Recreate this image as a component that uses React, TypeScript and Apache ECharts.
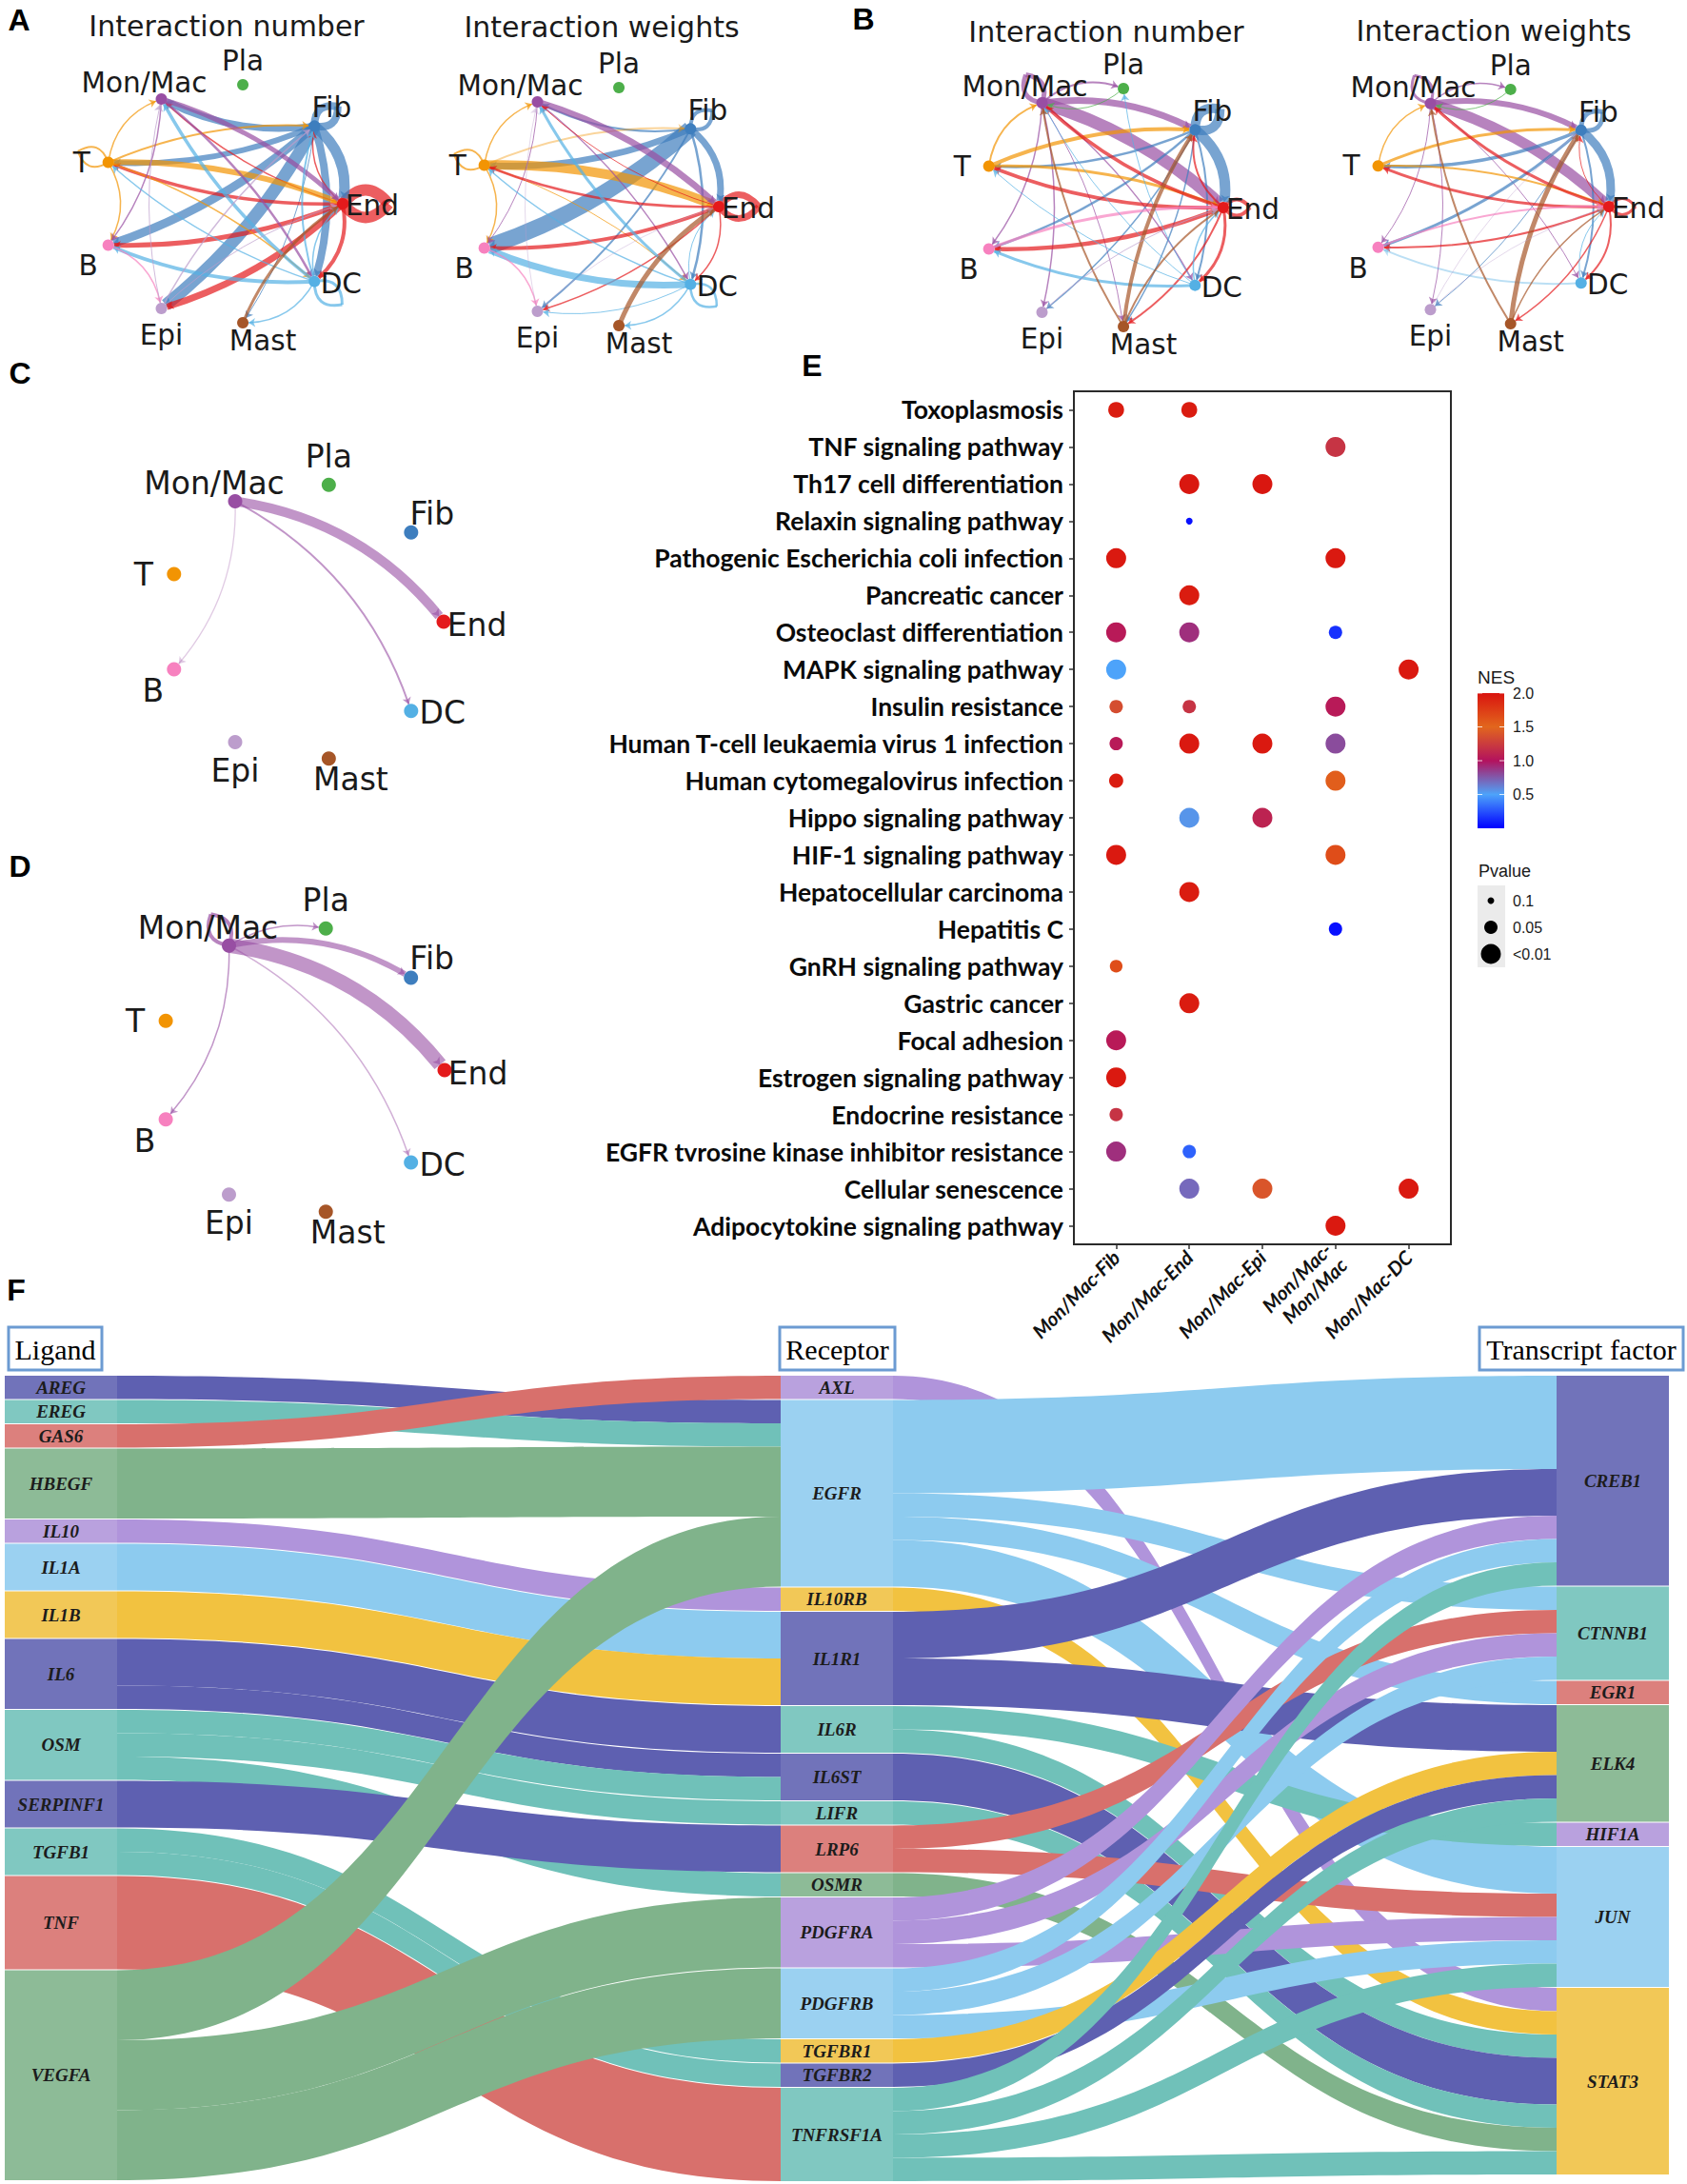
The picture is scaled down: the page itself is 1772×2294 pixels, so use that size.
import React, { useEffect, useRef } from "react";
import * as echarts from "echarts";

const CANVAS_W = 1772;
const CANVAS_H = 2294;

/* ---------------- Panels A–D : cell–cell communication networks ---------------- */
// clockwise from 3 o'clock
const cellTypes = ["End", "DC", "Mast", "Epi", "B", "T", "Mon/Mac", "Pla", "Fib"];
const cellColors = ["#E41A1C", "#54B0E4", "#A65628", "#BC9DCC", "#F781BF", "#F29403", "#984EA3", "#4DAF4A", "#3E7EBE"];

// [source, target, edge width, (optional) opacity]
const edgesANumber = [
  ["Fib", "Epi", 13], ["Fib", "End", 11], ["Fib", "B", 9], ["Fib", "DC", 8], ["Fib", "Mon/Mac", 7], ["Fib", "T", 6], ["Fib", "Mast", 1],
  ["End", "Epi", 7], ["End", "B", 5], ["End", "T", 3.5], ["End", "DC", 4], ["End", "Mon/Mac", 1.5], ["End", "Fib", 1.5],
  ["T", "End", 6], ["T", "Fib", 2], ["T", "Mon/Mac", 1.5], ["T", "B", 1.5], ["T", "DC", 1.5],
  ["Mon/Mac", "End", 5], ["Mon/Mac", "DC", 2.5], ["Mon/Mac", "B", 1.5],
  ["DC", "B", 4], ["DC", "Mon/Mac", 3.5], ["DC", "T", 1.5], ["DC", "Mast", 1.5], ["DC", "Fib", 2], ["DC", "End", 1.5],
  ["B", "Epi", 1.5], ["Epi", "Fib", 1.5], ["Epi", "End", 1], ["Epi", "Mon/Mac", 1],
  ["Mast", "End", 3],
];
// [cell, width, loop length]
const loopsANumber = [["End", 12, 48], ["Fib", 8, 32], ["T", 2, 34], ["DC", 3, 38]];

const edgesAWeight = [
  ["Fib", "B", 17], ["Fib", "T", 7], ["Fib", "End", 7], ["Fib", "Epi", 2], ["Fib", "DC", 2.5], ["Fib", "Mon/Mac", 2],
  ["T", "End", 10], ["T", "Fib", 2, 0.4], ["T", "Mon/Mac", 1.5], ["T", "B", 1.5], ["T", "DC", 1],
  ["Mon/Mac", "End", 7], ["Mon/Mac", "DC", 1.5], ["Mon/Mac", "B", 1],
  ["End", "B", 4], ["End", "T", 2.5], ["End", "Epi", 1.5], ["End", "DC", 1.5], ["End", "Mon/Mac", 1],
  ["DC", "B", 7], ["DC", "Mon/Mac", 3], ["DC", "T", 1.5], ["DC", "Mast", 1.5], ["DC", "Epi", 1], ["DC", "End", 1],
  ["Mast", "End", 5],
  ["B", "Epi", 1.5], ["Epi", "Mon/Mac", 1, 0.4], ["Epi", "End", 1, 0.4],
];
const loopsAWeight = [["End", 7, 42], ["Fib", 4, 30], ["T", 2, 34], ["DC", 2.5, 36]];

const edgesBNumber = [
  ["Mon/Mac", "End", 13], ["Mon/Mac", "Fib", 7], ["Mon/Mac", "Pla", 2], ["Mon/Mac", "B", 1.5], ["Mon/Mac", "Epi", 1.5], ["Mon/Mac", "DC", 1.5], ["Mon/Mac", "Mast", 1],
  ["Pla", "Mon/Mac", 1],
  ["Fib", "End", 11], ["Fib", "T", 2.5], ["Fib", "B", 2.5], ["Fib", "Epi", 1.5], ["Fib", "DC", 2], ["Fib", "Mast", 1.5],
  ["T", "Fib", 4], ["T", "End", 3], ["T", "Mon/Mac", 2],
  ["End", "T", 4], ["End", "Mon/Mac", 3.5], ["End", "B", 4.5], ["End", "DC", 3], ["End", "Mast", 2], ["End", "Fib", 2],
  ["B", "End", 3],
  ["DC", "B", 3], ["DC", "Mon/Mac", 1], ["DC", "Pla", 1], ["DC", "End", 1.5], ["DC", "T", 1],
  ["Mast", "Fib", 4], ["Mast", "Mon/Mac", 2], ["Mast", "End", 2],
  ["Epi", "End", 1],
];
const loopsBNumber = [["Mon/Mac", 5, 34], ["Fib", 10, 34], ["End", 4, 28]];

const edgesBWeight = [
  ["Mon/Mac", "End", 11], ["Mon/Mac", "Fib", 6], ["Mon/Mac", "Pla", 1.5], ["Mon/Mac", "B", 1], ["Mon/Mac", "Epi", 1], ["Mon/Mac", "DC", 1],
  ["Pla", "Mon/Mac", 1],
  ["Fib", "End", 9], ["Fib", "T", 3.5], ["Fib", "B", 3], ["Fib", "Epi", 1], ["Fib", "DC", 2],
  ["T", "Fib", 3], ["T", "End", 2], ["T", "Mon/Mac", 1.5],
  ["End", "T", 3], ["End", "Mon/Mac", 3], ["End", "B", 2], ["End", "DC", 2], ["End", "Mast", 1.5], ["End", "Fib", 1],
  ["B", "End", 2],
  ["DC", "B", 2, 0.4], ["DC", "End", 1],
  ["Mast", "Fib", 5], ["Mast", "Mon/Mac", 2], ["Mast", "End", 1.5],
  ["Epi", "End", 1, 0.4], ["Epi", "Fib", 1, 0.4],
];
const loopsBWeight = [["Mon/Mac", 3, 34], ["Fib", 5, 30], ["End", 3, 28]];

const edgesC = [["Mon/Mac", "End", 10], ["Mon/Mac", "DC", 2], ["Mon/Mac", "B", 1.3, 0.3]];
const loopsC = [];
const edgesD = [["Mon/Mac", "End", 15], ["Mon/Mac", "Fib", 6], ["Mon/Mac", "Pla", 1.5], ["Mon/Mac", "DC", 1.5, 0.45], ["Mon/Mac", "B", 1.5]];
const loopsD = [["Mon/Mac", 4, 38]];

const networkTitles = ["Interaction number", "Interaction weights", "Interaction number", "Interaction weights"];

/* ---------------- Panel E : enrichment dot plot ---------------- */
const pathways = [
  "Toxoplasmosis", "TNF signaling pathway", "Th17 cell differentiation", "Relaxin signaling pathway",
  "Pathogenic Escherichia coli infection", "Pancreatic cancer", "Osteoclast differentiation", "MAPK signaling pathway",
  "Insulin resistance", "Human T-cell leukaemia virus 1 infection", "Human cytomegalovirus infection",
  "Hippo signaling pathway", "HIF-1 signaling pathway", "Hepatocellular carcinoma", "Hepatitis C",
  "GnRH signaling pathway", "Gastric cancer", "Focal adhesion", "Estrogen signaling pathway", "Endocrine resistance",
  "EGFR tvrosine kinase inhibitor resistance", "Cellular senescence", "Adipocytokine signaling pathway",
];
const cellPairs = ["Mon/Mac-Fib", "Mon/Mac-End", "Mon/Mac-Epi", "Mon/Mac-Mon/Mac", "Mon/Mac-DC"];
// [pathway, pair, NES, Pvalue]
const enrichment = [
  ["Toxoplasmosis", "Mon/Mac-Fib", 1.95, 0.035], ["Toxoplasmosis", "Mon/Mac-End", 1.95, 0.035],
  ["TNF signaling pathway", "Mon/Mac-Mon/Mac", 1.2, 0.005],
  ["Th17 cell differentiation", "Mon/Mac-End", 1.98, 0.005], ["Th17 cell differentiation", "Mon/Mac-Epi", 1.98, 0.005],
  ["Relaxin signaling pathway", "Mon/Mac-End", 0.05, 0.1],
  ["Pathogenic Escherichia coli infection", "Mon/Mac-Fib", 1.97, 0.005], ["Pathogenic Escherichia coli infection", "Mon/Mac-Mon/Mac", 1.97, 0.005],
  ["Pancreatic cancer", "Mon/Mac-End", 1.95, 0.005],
  ["Osteoclast differentiation", "Mon/Mac-Fib", 1.05, 0.005], ["Osteoclast differentiation", "Mon/Mac-End", 0.9, 0.005], ["Osteoclast differentiation", "Mon/Mac-Mon/Mac", 0.15, 0.05],
  ["MAPK signaling pathway", "Mon/Mac-Fib", 0.5, 0.005], ["MAPK signaling pathway", "Mon/Mac-DC", 1.97, 0.005],
  ["Insulin resistance", "Mon/Mac-Fib", 1.35, 0.05], ["Insulin resistance", "Mon/Mac-End", 1.2, 0.05], ["Insulin resistance", "Mon/Mac-Mon/Mac", 1.05, 0.007],
  ["Human T-cell leukaemia virus 1 infection", "Mon/Mac-Fib", 1.05, 0.05], ["Human T-cell leukaemia virus 1 infection", "Mon/Mac-End", 1.97, 0.005],
  ["Human T-cell leukaemia virus 1 infection", "Mon/Mac-Epi", 1.97, 0.005], ["Human T-cell leukaemia virus 1 infection", "Mon/Mac-Mon/Mac", 0.8, 0.005],
  ["Human cytomegalovirus infection", "Mon/Mac-Fib", 1.95, 0.045], ["Human cytomegalovirus infection", "Mon/Mac-Mon/Mac", 1.55, 0.005],
  ["Hippo signaling pathway", "Mon/Mac-End", 0.55, 0.005], ["Hippo signaling pathway", "Mon/Mac-Epi", 1.1, 0.005],
  ["HIF-1 signaling pathway", "Mon/Mac-Fib", 1.97, 0.005], ["HIF-1 signaling pathway", "Mon/Mac-Mon/Mac", 1.65, 0.005],
  ["Hepatocellular carcinoma", "Mon/Mac-End", 1.95, 0.005],
  ["Hepatitis C", "Mon/Mac-Mon/Mac", 0.05, 0.05],
  ["GnRH signaling pathway", "Mon/Mac-Fib", 1.65, 0.055],
  ["Gastric cancer", "Mon/Mac-End", 1.95, 0.005],
  ["Focal adhesion", "Mon/Mac-Fib", 1.05, 0.005],
  ["Estrogen signaling pathway", "Mon/Mac-Fib", 1.97, 0.005],
  ["Endocrine resistance", "Mon/Mac-Fib", 1.2, 0.05],
  ["EGFR tvrosine kinase inhibitor resistance", "Mon/Mac-Fib", 0.9, 0.005], ["EGFR tvrosine kinase inhibitor resistance", "Mon/Mac-End", 0.3, 0.05],
  ["Cellular senescence", "Mon/Mac-End", 0.7, 0.005], ["Cellular senescence", "Mon/Mac-Epi", 1.4, 0.005], ["Cellular senescence", "Mon/Mac-DC", 1.97, 0.005],
  ["Adipocytokine signaling pathway", "Mon/Mac-Mon/Mac", 1.97, 0.005],
];
const nesTicks = [2.0, 1.5, 1.0, 0.5];
const nesMin = 0;
const nesMax = 2;
const nesColors = ["#0000FF", "#4DA3FA", "#B3125E", "#E2661D", "#D9140F"];
const pvalueBreaks = [0.1, 0.05, 0.01];
const pvalueLabels = ["0.1", "0.05", "<0.01"];

/* ---------------- Panel F : ligand – receptor – transcription factor sankey ---------------- */
const ligands = ["AREG", "EREG", "GAS6", "HBEGF", "IL10", "IL1A", "IL1B", "IL6", "OSM", "SERPINF1", "TGFB1", "TNF", "VEGFA"];
const ligandHues = ["navy", "teal", "red", "green", "lavender", "sky", "yellow", "navy", "teal", "navy", "teal", "red", "green"];
const receptors = ["AXL", "EGFR", "IL10RB", "IL1R1", "IL6R", "IL6ST", "LIFR", "LRP6", "OSMR", "PDGFRA", "PDGFRB", "TGFBR1", "TGFBR2", "TNFRSF1A"];
const receptorHues = ["lavender", "sky", "yellow", "navy", "teal", "navy", "teal", "red", "green", "lavender", "sky", "yellow", "navy", "teal"];
const factors = ["CREB1", "CTNNB1", "EGR1", "ELK4", "HIF1A", "JUN", "STAT3"];
const factorHues = ["navy", "teal", "red", "green", "lavender", "sky", "yellow"];
const ligandReceptorLinks = [
  ["AREG", "EGFR", 1], ["EREG", "EGFR", 1], ["GAS6", "AXL", 1], ["HBEGF", "EGFR", 3], ["IL10", "IL10RB", 1],
  ["IL1A", "IL1R1", 2], ["IL1B", "IL1R1", 2], ["IL6", "IL6R", 2], ["IL6", "IL6ST", 1], ["OSM", "IL6ST", 1],
  ["OSM", "LIFR", 1], ["OSM", "OSMR", 1], ["SERPINF1", "LRP6", 2], ["TGFB1", "TGFBR1", 1], ["TGFB1", "TGFBR2", 1],
  ["TNF", "TNFRSF1A", 4], ["VEGFA", "EGFR", 3], ["VEGFA", "PDGFRA", 3], ["VEGFA", "PDGFRB", 3],
];
const receptorFactorLinks = [
  ["AXL", "STAT3", 1], ["EGFR", "CREB1", 4], ["EGFR", "CTNNB1", 1], ["EGFR", "EGR1", 1], ["EGFR", "JUN", 2],
  ["IL10RB", "STAT3", 1], ["IL1R1", "CREB1", 2], ["IL1R1", "ELK4", 2], ["IL6R", "HIF1A", 1], ["IL6R", "STAT3", 1],
  ["IL6ST", "STAT3", 2], ["LIFR", "STAT3", 1], ["LRP6", "CTNNB1", 1], ["LRP6", "JUN", 1], ["OSMR", "STAT3", 1],
  ["PDGFRA", "CREB1", 1], ["PDGFRA", "CTNNB1", 1], ["PDGFRA", "JUN", 1], ["PDGFRB", "CREB1", 1], ["PDGFRB", "CTNNB1", 1],
  ["PDGFRB", "JUN", 1], ["TGFBR1", "ELK4", 1], ["TGFBR2", "ELK4", 1], ["TNFRSF1A", "CREB1", 1], ["TNFRSF1A", "ELK4", 1],
  ["TNFRSF1A", "JUN", 1], ["TNFRSF1A", "STAT3", 1],
];
const columnTitles = ["Ligand", "Receptor", "Transcript factor"];

/* ---------------- styles ---------------- */
const hueColors = {
  navy: { link: "#5E60B1", node: "#7173BA" },
  teal: { link: "#70C1B9", node: "#80C8C1" },
  red: { link: "#D8706C", node: "#DC807D" },
  green: { link: "#80B38B", node: "#8DBB97" },
  lavender: { link: "#B094DB", node: "#B9A1DE" },
  sky: { link: "#8DCBEF", node: "#9BD1F1" },
  yellow: { link: "#F2C240", node: "#F2C857" },
};
const labelOffsetsSmall = { "Mon/Mac": [-18, -17], Pla: [0, -25], Fib: [18, -19], T: [-28, 0], End: [31, 2], B: [-21, 22], DC: [28, 2], Epi: [0, 28], Mast: [21, 19] };
const labelOffsetsLarge = { "Mon/Mac": [-22, -19], Pla: [0, -30], Fib: [22, -20], T: [-32, 0], End: [35, 3], B: [-22, 23], DC: [33, 2], Epi: [0, 30], Mast: [23, 22] };

const networkPanels = [
  { cx: 233, cy: 214, r: 127, edges: edgesANumber, loops: loopsANumber, large: false, title: [238, 27] },
  { cx: 628, cy: 217, r: 127, edges: edgesAWeight, loops: loopsAWeight, large: false, title: [632, 28] },
  { cx: 1158, cy: 218, r: 127, edges: edgesBNumber, loops: loopsBNumber, large: false, title: [1162, 33] },
  { cx: 1565, cy: 217, r: 125, edges: edgesBWeight, loops: loopsBWeight, large: false, title: [1569, 32] },
  { cx: 320, cy: 653, r: 146, edges: edgesC, loops: loopsC, large: true, title: null },
  { cx: 316, cy: 1124, r: 151, edges: edgesD, loops: loopsD, large: true, title: null },
];

function cellColor(name) {
  return cellColors[cellTypes.indexOf(name)];
}

function buildNetwork(p) {
  const pos = {};
  cellTypes.forEach((n, i) => {
    const a = (i * 2 * Math.PI) / cellTypes.length;
    pos[n] = [p.cx + p.r * Math.cos(a), p.cy + p.r * Math.sin(a)];
  });
  const offs = p.large ? labelOffsetsLarge : labelOffsetsSmall;
  const nodes = cellTypes.map((n) => ({
    name: n,
    value: pos[n],
    symbolSize: p.large ? 15 : 12,
    itemStyle: { color: cellColor(n) },
    label: {
      show: true,
      position: "inside",
      offset: offs[n],
      fontSize: p.large ? 33 : 29.5,
      fontFamily: "DejaVu Sans",
      color: "#1a1a1a",
    },
  }));
  const links = [];
  p.loops.forEach(([n, w, len]) => {
    const [x, y] = pos[n];
    const dx = x - p.cx;
    const dy = y - p.cy;
    const d = Math.hypot(dx, dy);
    const helper = n + "__loop";
    nodes.push({
      name: helper,
      value: [x + (dx / d) * len, y + (dy / d) * len],
      symbolSize: 0,
      itemStyle: { opacity: 0 },
      label: { show: false },
    });
    const ls = { color: cellColor(n), width: w, opacity: 0.7, curveness: 0.6 };
    links.push({ source: n, target: helper, lineStyle: ls, symbol: ["none", "none"] });
    links.push({ source: helper, target: n, lineStyle: ls, symbol: ["none", "none"] });
  });
  p.edges.forEach(([s, t, w, op]) => {
    const L = Math.hypot(pos[s][0] - pos[t][0], pos[s][1] - pos[t][1]);
    const c = p.large ? 0.2 : Math.min(0.4, Math.max(0.08, 26 / L));
    links.push({
      source: s,
      target: t,
      lineStyle: { color: cellColor(s), width: w, opacity: op !== undefined ? op : p.large ? 0.6 : 0.7, curveness: c },
    });
  });
  return {
    type: "graph",
    coordinateSystem: "cartesian2d",
    xAxisIndex: 0,
    yAxisIndex: 0,
    layout: "none",
    silent: true,
    emphasis: { disabled: true },
    edgeSymbol: ["none", "arrow"],
    edgeSymbolSize: [0, 7],
    data: nodes,
    links,
  };
}

function sizeFromP(p) {
  const q = Math.min(0.1, Math.max(0.001, p));
  if (q >= 0.05) return 14 - ((q - 0.05) / 0.05) * 7;
  if (q >= 0.01) return 21 - ((q - 0.01) / 0.04) * 7;
  return 21;
}

function buildOption() {
  const series = [];
  networkPanels.forEach((p) => series.push(buildNetwork(p)));

  // E: dot plot
  const dotData = enrichment.map(([pw, pair, nes, pv]) => [cellPairs.indexOf(pair), pathways.indexOf(pw), nes, pv]);
  const scatterIndex = series.length;
  series.push({
    type: "scatter",
    xAxisIndex: 1,
    yAxisIndex: 1,
    data: dotData,
    encode: { x: 0, y: 1 },
    symbolSize: (v) => sizeFromP(v[3]),
    itemStyle: { opacity: 1 },
    silent: true,
    z: 5,
  });

  // F: sankey
  const hueOf = {};
  ligands.forEach((n, i) => (hueOf[n] = ligandHues[i]));
  receptors.forEach((n, i) => (hueOf[n] = receptorHues[i]));
  factors.forEach((n, i) => (hueOf[n] = factorHues[i]));
  const sankeyNodes = [
    ...ligands.map((n) => ({ name: n, depth: 0 })),
    ...receptors.map((n) => ({ name: n, depth: 1 })),
    ...factors.map((n) => ({ name: n, depth: 2 })),
  ].map((d) => ({ ...d, itemStyle: { color: hueColors[hueOf[d.name]].node, borderWidth: 0 } }));
  const sankeyLinks = [...ligandReceptorLinks, ...receptorFactorLinks].map(([s, t, v]) => ({
    source: s,
    target: t,
    value: v,
    lineStyle: { color: hueColors[hueOf[s]].link, opacity: 1 },
  }));
  series.push({
    type: "sankey",
    left: 5,
    top: 1445,
    width: 1748,
    height: 846,
    nodeWidth: 118,
    nodeGap: 1,
    layoutIterations: 0,
    draggable: false,
    silent: true,
    emphasis: { disabled: true },
    data: sankeyNodes,
    links: sankeyLinks,
    lineStyle: { curveness: 0.5, opacity: 1 },
    label: {
      show: true,
      position: "inside",
      fontFamily: "Liberation Serif",
      fontStyle: "italic",
      fontWeight: "bold",
      fontSize: 19,
      color: "#1c1c1c",
    },
  });

  /* graphics */
  const graphic = [];
  const panelLetters = [["A", 20, 21], ["B", 907, 20], ["C", 21, 392], ["D", 21, 910], ["E", 853, 384], ["F", 17, 1355]];
  panelLetters.forEach(([t, x, y]) =>
    graphic.push({ type: "text", x, y, style: { text: t, font: "bold 32px Liberation Sans", fill: "#000", textAlign: "center", textVerticalAlign: "middle" } })
  );
  networkPanels.forEach((p, i) => {
    if (!p.title) return;
    graphic.push({
      type: "text",
      x: p.title[0],
      y: p.title[1],
      style: { text: networkTitles[i], font: "30px DejaVu Sans", fill: "#1a1a1a", textAlign: "center", textVerticalAlign: "middle" },
    });
  });

  // E box
  const box = { x: 1128, y: 411, w: 396, h: 896 };
  graphic.push({ type: "rect", shape: { x: box.x, y: box.y, width: box.w, height: box.h }, style: { fill: "none", stroke: "#2a2a2a", lineWidth: 2 }, z: 10 });

  // NES colour bar
  const bar = { x: 1552, y: 728, w: 28, h: 142 };
  graphic.push({ type: "text", x: bar.x, y: 711, style: { text: "NES", font: "19px Liberation Sans", fill: "#1a1a1a", textAlign: "left", textVerticalAlign: "middle" } });
  graphic.push({
    type: "rect",
    shape: { x: bar.x, y: bar.y, width: bar.w, height: bar.h },
    style: {
      fill: new echarts.graphic.LinearGradient(0, 1, 0, 0, nesColors.map((c, i) => ({ offset: i / (nesColors.length - 1), color: c }))),
    },
  });
  nesTicks.forEach((v) => {
    const y = bar.y + bar.h - ((v - nesMin) / (nesMax - nesMin)) * bar.h;
    graphic.push({ type: "line", shape: { x1: bar.x, y1: y, x2: bar.x + 5, y2: y }, style: { stroke: "rgba(255,255,255,0.8)", lineWidth: 1 } });
    graphic.push({ type: "line", shape: { x1: bar.x + bar.w - 5, y1: y, x2: bar.x + bar.w, y2: y }, style: { stroke: "rgba(255,255,255,0.8)", lineWidth: 1 } });
    graphic.push({ type: "text", x: bar.x + 37, y, style: { text: v.toFixed(1), font: "16px Liberation Sans", fill: "#1a1a1a", textAlign: "left", textVerticalAlign: "middle" } });
  });

  // Pvalue size legend
  graphic.push({ type: "text", x: 1553, y: 915, style: { text: "Pvalue", font: "18px Liberation Sans", fill: "#1a1a1a", textAlign: "left", textVerticalAlign: "middle" } });
  graphic.push({ type: "rect", shape: { x: 1552, y: 930, width: 29, height: 86 }, style: { fill: "#EBEBEB" } });
  pvalueBreaks.forEach((pv, i) => {
    const y = 946 + i * 28;
    graphic.push({ type: "circle", shape: { cx: 1566, cy: y, r: sizeFromP(pv) / 2 }, style: { fill: "#000" } });
    graphic.push({ type: "text", x: 1589, y, style: { text: pvalueLabels[i], font: "16px Liberation Sans", fill: "#1a1a1a", textAlign: "left", textVerticalAlign: "middle" } });
  });

  // F column header boxes
  const headers = [
    { x: 9, w: 98 },
    { x: 819, w: 121 },
    { x: 1554, w: 214 },
  ];
  headers.forEach((hb, i) => {
    graphic.push({ type: "rect", shape: { x: hb.x, y: 1394, width: hb.w, height: 45 }, style: { fill: "#fff", stroke: "#6C9BD2", lineWidth: 3 } });
    graphic.push({
      type: "text",
      x: hb.x + hb.w / 2,
      y: 1417,
      style: { text: columnTitles[i], font: "30px Liberation Serif", fill: "#000", textAlign: "center", textVerticalAlign: "middle" },
    });
  });

  return {
    animation: false,
    backgroundColor: "#ffffff",
    grid: [
      { left: 0, top: 0, width: CANVAS_W, height: CANVAS_H },
      { left: 1134, top: 411, width: 384, height: 896 },
    ],
    xAxis: [
      { gridIndex: 0, type: "value", min: 0, max: CANVAS_W, show: false },
      {
        gridIndex: 1,
        type: "category",
        data: cellPairs,
        boundaryGap: true,
        axisLine: { show: false },
        axisTick: { show: true, alignWithLabel: true, length: 5, lineStyle: { color: "#333", width: 1.5 } },
        axisLabel: {
          rotate: 45,
          margin: 10,
          interval: 0,
          fontFamily: "Lato",
          fontWeight: "bold",
          fontStyle: "italic",
          fontSize: 20.5,
          lineHeight: 23,
          color: "#111",
          formatter: (v) => v.replace("-Mon/Mac", "-\nMon/Mac"),
        },
        splitLine: { show: false },
      },
    ],
    yAxis: [
      { gridIndex: 0, type: "value", min: 0, max: CANVAS_H, inverse: true, show: false },
      {
        gridIndex: 1,
        type: "category",
        data: pathways,
        inverse: true,
        boundaryGap: true,
        offset: 6,
        axisLine: { show: false },
        axisTick: { show: true, alignWithLabel: true, length: 5, lineStyle: { color: "#333", width: 1.5 } },
        axisLabel: { interval: 0, margin: 11, fontFamily: "Lato", fontWeight: "bold", fontSize: 26.5, color: "#0a0a0a" },
        splitLine: { show: false },
      },
    ],
    visualMap: [
      {
        type: "continuous",
        show: false,
        seriesIndex: scatterIndex,
        dimension: 2,
        min: nesMin,
        max: nesMax,
        inRange: { color: nesColors },
      },
    ],
    series,
    graphic,
  };
}

export default function App() {
  const ref = useRef(null);
  useEffect(() => {
    if (!ref.current) return;
    const chart = echarts.init(ref.current, null, { renderer: "svg", width: CANVAS_W, height: CANVAS_H });
    chart.setOption(buildOption());
    return () => chart.dispose();
  }, []);
  return (
    <div
      ref={ref}
      style={{ position: "absolute", left: 0, top: 0, width: CANVAS_W + "px", height: CANVAS_H + "px", background: "#fff" }}
    />
  );
}
